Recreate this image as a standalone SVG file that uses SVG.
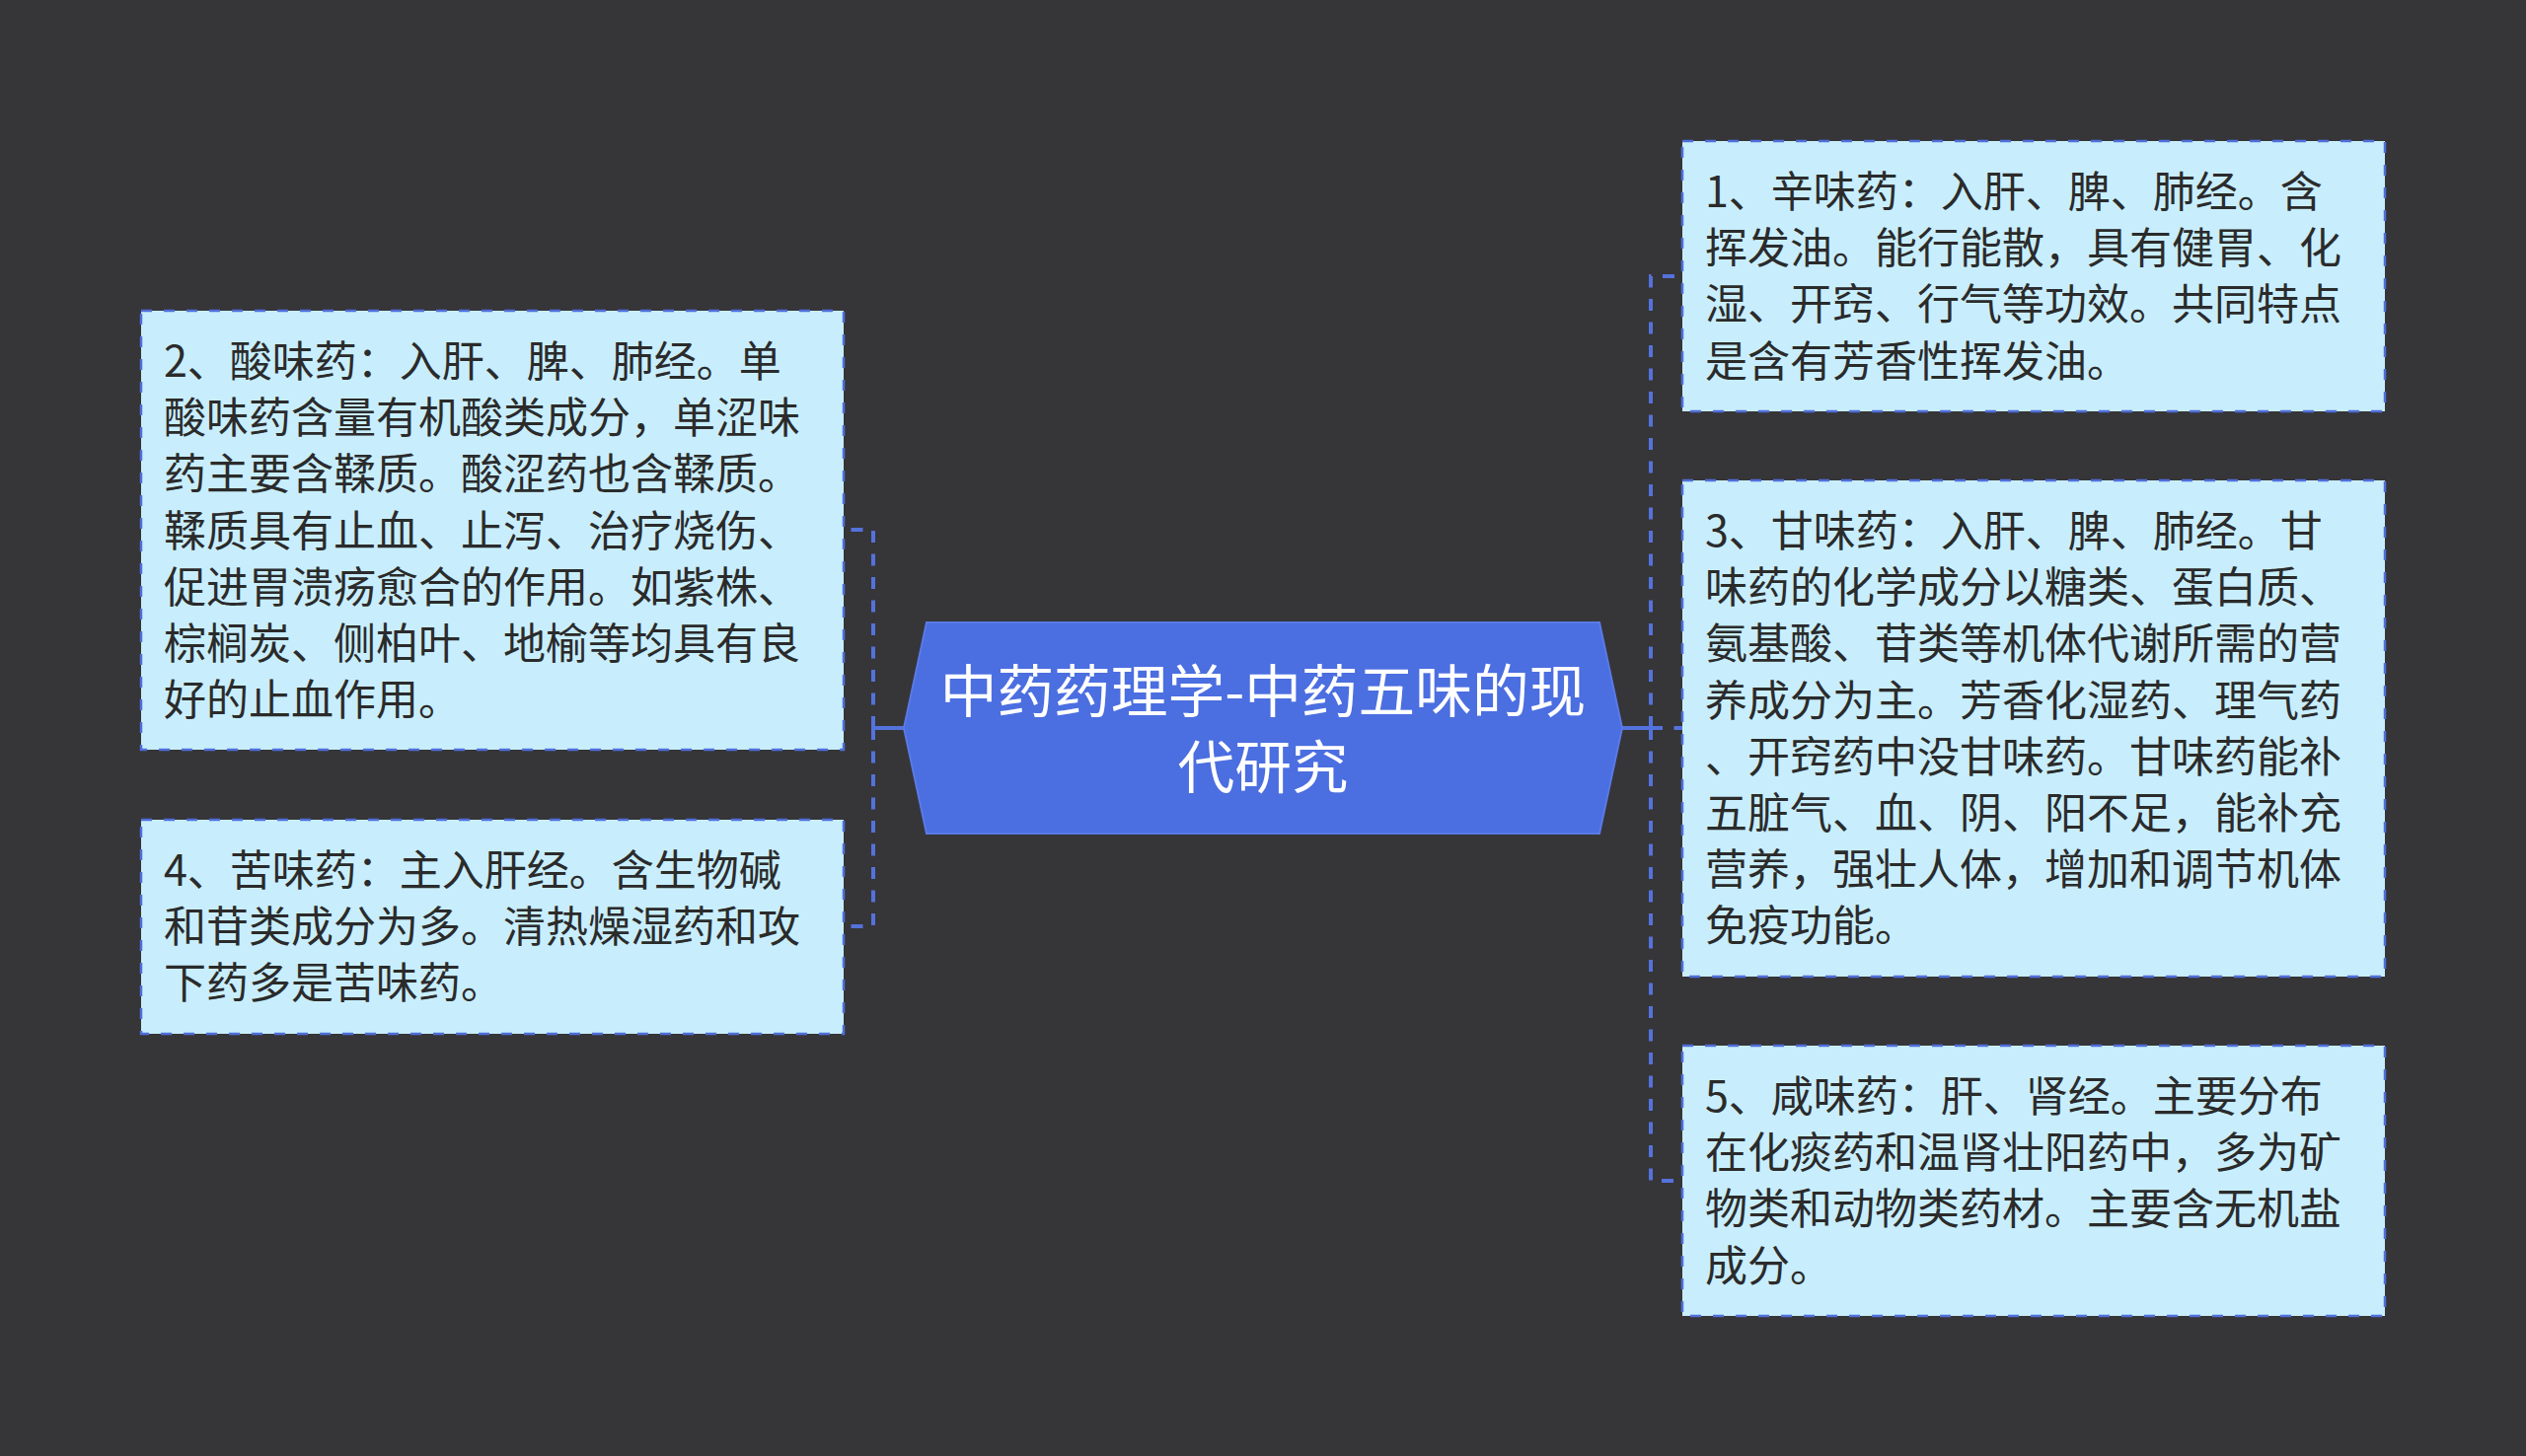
<svg xmlns="http://www.w3.org/2000/svg" width="2560" height="1476" viewBox="0 0 2560 1476">
<style>
.bg{fill:#363538}
.box{fill:#c8eefd;stroke:#4f6fd9;stroke-width:2.5;stroke-dasharray:11 12}
.t{font-family:"Noto Sans CJK SC","Noto Sans",sans-serif;font-size:43px;fill:#2b2b2b}
.ct{font-family:"Noto Sans CJK SC","Noto Sans",sans-serif;font-size:57.7px;fill:#ffffff;text-anchor:middle}
.c{fill:none;stroke:#5472dc;stroke-width:4;stroke-dasharray:12 11.5}
.cs{fill:none;stroke:#5472dc;stroke-width:4}
.center{fill:#4b6ee0;stroke:#5a7ae6;stroke-width:2}
</style>
<rect class="bg" x="0" y="0" width="2560" height="1476"/>
<g id="connectors">
<line class="cs" x1="885" y1="738" x2="917" y2="738"/>
<path class="c" d="M885,738 V537 H855"/>
<path class="c" d="M885,738 V939 H855"/>
<line class="cs" x1="1643" y1="738" x2="1673" y2="738"/>
<path class="c" d="M1673,738 V280 H1705"/>
<path class="c" d="M1673,738 H1705"/>
<path class="c" d="M1673,738 V1197 H1705"/>
</g>
<g id="center">
<polygon class="center" points="916,738 939,631 1621,631 1644,738 1621,845 939,845"/>
<text class="ct" x="1280" y="722">中药药理学-中药五味的现</text>
<text class="ct" x="1280" y="799">代研究</text>
</g>
<g id="node2">
<rect class="box" x="143" y="315" width="712" height="445"/>
<text class="t" x="166" y="382">2、酸味药：入肝、脾、肺经。单</text>
<text class="t" x="166" y="439.2">酸味药含量有机酸类成分，单涩味</text>
<text class="t" x="166" y="496.4">药主要含鞣质。酸涩药也含鞣质。</text>
<text class="t" x="166" y="553.6">鞣质具有止血、止泻、治疗烧伤、</text>
<text class="t" x="166" y="610.8">促进胃溃疡愈合的作用。如紫株、</text>
<text class="t" x="166" y="668">棕榈炭、侧柏叶、地榆等均具有良</text>
<text class="t" x="166" y="725.2">好的止血作用。</text>
</g>
<g id="node4">
<rect class="box" x="143" y="831" width="712" height="217"/>
<text class="t" x="166" y="898">4、苦味药：主入肝经。含生物碱</text>
<text class="t" x="166" y="955.2">和苷类成分为多。清热燥湿药和攻</text>
<text class="t" x="166" y="1012.4">下药多是苦味药。</text>
</g>
<g id="node1">
<rect class="box" x="1705" y="143" width="712" height="274"/>
<text class="t" x="1728" y="210">1、辛味药：入肝、脾、肺经。含</text>
<text class="t" x="1728" y="267.2">挥发油。能行能散，具有健胃、化</text>
<text class="t" x="1728" y="324.4">湿、开窍、行气等功效。共同特点</text>
<text class="t" x="1728" y="381.6">是含有芳香性挥发油。</text>
</g>
<g id="node3">
<rect class="box" x="1705" y="487" width="712" height="503"/>
<text class="t" x="1728" y="554">3、甘味药：入肝、脾、肺经。甘</text>
<text class="t" x="1728" y="611.2">味药的化学成分以糖类、蛋白质、</text>
<text class="t" x="1728" y="668.4">氨基酸、苷类等机体代谢所需的营</text>
<text class="t" x="1728" y="725.6">养成分为主。芳香化湿药、理气药</text>
<text class="t" x="1728" y="782.8">、开窍药中没甘味药。甘味药能补</text>
<text class="t" x="1728" y="840">五脏气、血、阴、阳不足，能补充</text>
<text class="t" x="1728" y="897.2">营养，强壮人体，增加和调节机体</text>
<text class="t" x="1728" y="954.4">免疫功能。</text>
</g>
<g id="node5">
<rect class="box" x="1705" y="1060" width="712" height="274"/>
<text class="t" x="1728" y="1127">5、咸味药：肝、肾经。主要分布</text>
<text class="t" x="1728" y="1184.2">在化痰药和温肾壮阳药中，多为矿</text>
<text class="t" x="1728" y="1241.4">物类和动物类药材。主要含无机盐</text>
<text class="t" x="1728" y="1298.6">成分。</text>
</g>
</svg>
